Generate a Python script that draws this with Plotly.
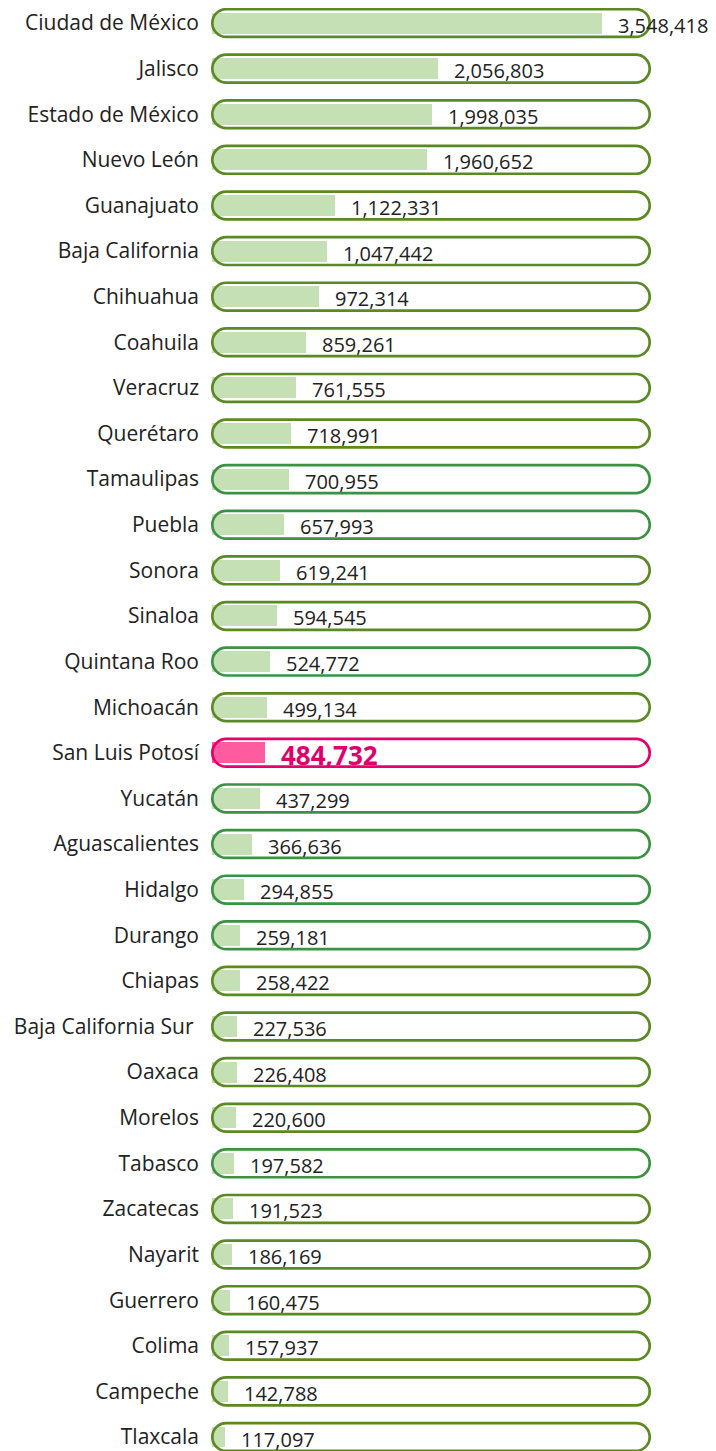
import plotly.graph_objects as go

# ---------------- data ----------------
states = [
    "Ciudad de México", "Jalisco", "Estado de México", "Nuevo León", "Guanajuato",
    "Baja California", "Chihuahua", "Coahuila", "Veracruz", "Querétaro",
    "Tamaulipas", "Puebla", "Sonora", "Sinaloa", "Quintana Roo", "Michoacán",
    "San Luis Potosí", "Yucatán", "Aguascalientes", "Hidalgo", "Durango",
    "Chiapas", "Baja California Sur", "Oaxaca", "Morelos", "Tabasco",
    "Zacatecas", "Nayarit", "Guerrero", "Colima", "Campeche", "Tlaxcala",
]
values = [
    3548418, 2056803, 1998035, 1960652, 1122331,
    1047442, 972314, 859261, 761555, 718991,
    700955, 657993, 619241, 594545, 524772, 499134,
    484732, 437299, 366636, 294855, 259181,
    258422, 227536, 226408, 220600, 197582,
    191523, 186169, 160475, 157937, 142788, 117097,
]
highlight = "San Luis Potosí"
# outline group of each row's frame ("a" olive, "b" green)
frame_group = [
    "a", "a", "a", "a", "a", "a", "a", "a", "a", "a",
    "b", "b", "a", "a", "b", "a", "a", "b", "b", "b", "b",
    "a", "a", "a", "a", "b", "a", "a", "a", "a", "a", "a",
]

# ---------------- style ----------------
OLIVE = "#5b8a23"
GREEN = "#3b9243"
PINK_LINE = "#e6006e"
PINK_BAR = "#ff5ca0"
PINK_TEXT = "#e0006b"
BAR = "#c5e0b4"
TEXT = "#222222"
FONT = "Open Sans"

n = len(states)
rows = list(range(n))
bar_colors = [PINK_BAR if s == highlight else BAR for s in states]
frame_colors = [
    PINK_LINE if s == highlight else (OLIVE if g == "a" else GREEN)
    for s, g in zip(states, frame_group)
]

fig = go.Figure()
fig.add_trace(go.Bar(
    x=values, y=rows, orientation="h", width=0.46,
    marker=dict(color=bar_colors, line=dict(width=0)),
    hoverinfo="skip", showlegend=False,
))

# pill-shaped frames (x in domain units, y in data units)
left, right = 0.014, 0.986
rx, ry = 0.031, 0.305
k = 0.5523
shapes = []
for i, c in zip(rows, frame_colors):
    y = i
    xl, xr = left + rx, right - rx
    path = (
        f"M {xl},{y-ry} L {xr},{y-ry} "
        f"C {xr+k*rx},{y-ry} {right},{y-k*ry} {right},{y} "
        f"C {right},{y+k*ry} {xr+k*rx},{y+ry} {xr},{y+ry} "
        f"L {xl},{y+ry} "
        f"C {xl-k*rx},{y+ry} {left},{y+k*ry} {left},{y} "
        f"C {left},{y-k*ry} {xl-k*rx},{y-ry} {xl},{y-ry} Z"
    )
    shapes.append(dict(type="path", path=path, xref="x domain", yref="y",
                       line=dict(color=c, width=2.7), layer="above"))

annotations = []
for i, (s, v) in enumerate(zip(states, values)):
    hl = s == highlight
    annotations.append(dict(
        x=v, y=i, xref="x", yref="y", text=f"{v:,}",
        showarrow=False, xanchor="left", yanchor="middle",
        xshift=14, yshift=-2,
        font=dict(family=FONT, size=26 if hl else 20,
                  color=PINK_TEXT if hl else TEXT,
                  weight="bold" if hl else "normal"),
    ))

ticktext = [s + "\u00a0" if s == "Baja California Sur" else s for s in states]

fig.update_layout(
    width=708, height=1443, autosize=False,
    margin=dict(l=198, r=60, t=0, b=0, pad=0),
    paper_bgcolor="white", plot_bgcolor="white",
    shapes=shapes, annotations=annotations,
    bargap=0,
    xaxis=dict(range=[-54600, 4041000], visible=False, showgrid=False,
               zeroline=False, fixedrange=True),
    yaxis=dict(range=[31.307, -0.329], tickmode="array", tickvals=rows,
               ticktext=ticktext, showgrid=False, zeroline=False,
               showline=False, ticks="", ticklabelstandoff=6,
               tickfont=dict(family=FONT, size=21, color=TEXT),
               fixedrange=True),
)

fig.write_html("out.html")
